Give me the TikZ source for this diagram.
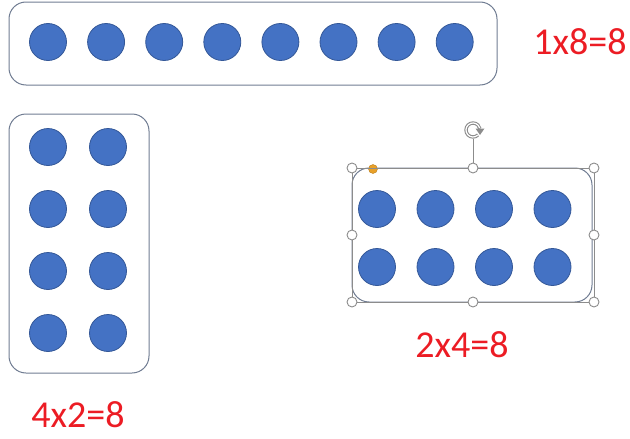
\documentclass[tikz,border=0pt]{standalone}
\usepackage{fontspec}
\setmainfont{Carlito}
\usetikzlibrary{arrows.meta}
\definecolor{dotblue}{RGB}{68,114,196}
\definecolor{dotedge}{RGB}{52,88,152}
\definecolor{frameline}{RGB}{112,124,146}
\definecolor{handlegray}{RGB}{140,140,140}
\definecolor{adjorange}{RGB}{232,160,40}
\definecolor{sumred}{RGB}{236,28,36}
\begin{document}
\begin{tikzpicture}[x=1pt, y=-1pt, >=Stealth, thick]
    \tikzstyle{dot}=[circle, draw=dotedge, fill=dotblue, line width=0.8pt, minimum size=37pt, inner sep=0pt]
    \tikzstyle{frame}=[draw=frameline, rounded corners=17pt, line width=1pt, inner sep=0pt]
    \tikzstyle{handle}=[circle, draw=handlegray, fill=white, line width=0.9pt, minimum size=10pt, inner sep=0pt]
    \tikzstyle{sum}=[text=sumred, font=\fontsize{38}{40}\selectfont, inner sep=0pt]
    \useasboundingbox (0,0) rectangle (630,439);
    % the three arrays
    \node[frame, minimum width=488pt, minimum height=83pt] (row) at (253,43.5) {};
    \node[frame, minimum width=140pt, minimum height=259pt] (col) at (79,243.5) {};
    \node[frame, minimum width=240pt, minimum height=134pt] (rect) at (472,235) {};
    \foreach \i in {1,...,8}
        \node[dot] (r\i) at ({48+58.1*(\i-1)},42) {};
    \foreach \r in {1,...,4}
        \foreach \c in {1,2}
            \node[dot] (c\r\c) at ({48+60*(\c-1)},{147+62*(\r-1)}) {};
    \foreach \r in {1,2}
        \foreach \c in {1,...,4}
            \node[dot] (d\r\c) at ({377+58.5*(\c-1)},{209+58*(\r-1)}) {};
    % selection handles
    \node[handle] (tl) at (352,168) {};
    \node[handle] (tm) at (473,168) {};
    \node[handle] (tr) at (594,168) {};
    \node[handle] (ml) at (352,235) {};
    \node[handle] (mr) at (594,235) {};
    \node[handle] (bl) at (352,302) {};
    \node[handle] (bm) at (473,302) {};
    \node[handle] (br) at (594,302) {};
    \node[circle, minimum size=17pt, inner sep=0pt] (rot) at (473,130) {};
    \node[circle, fill=adjorange, draw=adjorange!80!black, line width=0.4pt, minimum size=9pt, inner sep=0pt] (adj) at (373,169) {};
    \draw[handlegray, line width=0.6pt] (tl) -- (tm) -- (tr) -- (mr) -- (br) -- (bm) -- (bl) -- (ml) -- (tl);
    \draw[handlegray, line width=0.9pt] (tm) -- (rot);
    % rotate icon
    \draw[handlegray, line width=3.4pt] ([shift={(rot.center)}] 45:7) arc[start angle=45, end angle=350, radius=7];
    \draw[white, line width=1.2pt] ([shift={(rot.center)}] 48:7) arc[start angle=48, end angle=345, radius=7];
    \fill[handlegray] ([shift={(rot.center)}] 2.5,-1.5) -- ++(9,0) -- ++(-4.5,6.5) -- cycle;
    % products
    \node[sum] (p1) at (580,42) {1x8=8};
    \node[sum] (p2) at (78,415) {4x2=8};
    \node[sum] (p3) at (462,345) {2x4=8};
\end{tikzpicture}
\end{document}
